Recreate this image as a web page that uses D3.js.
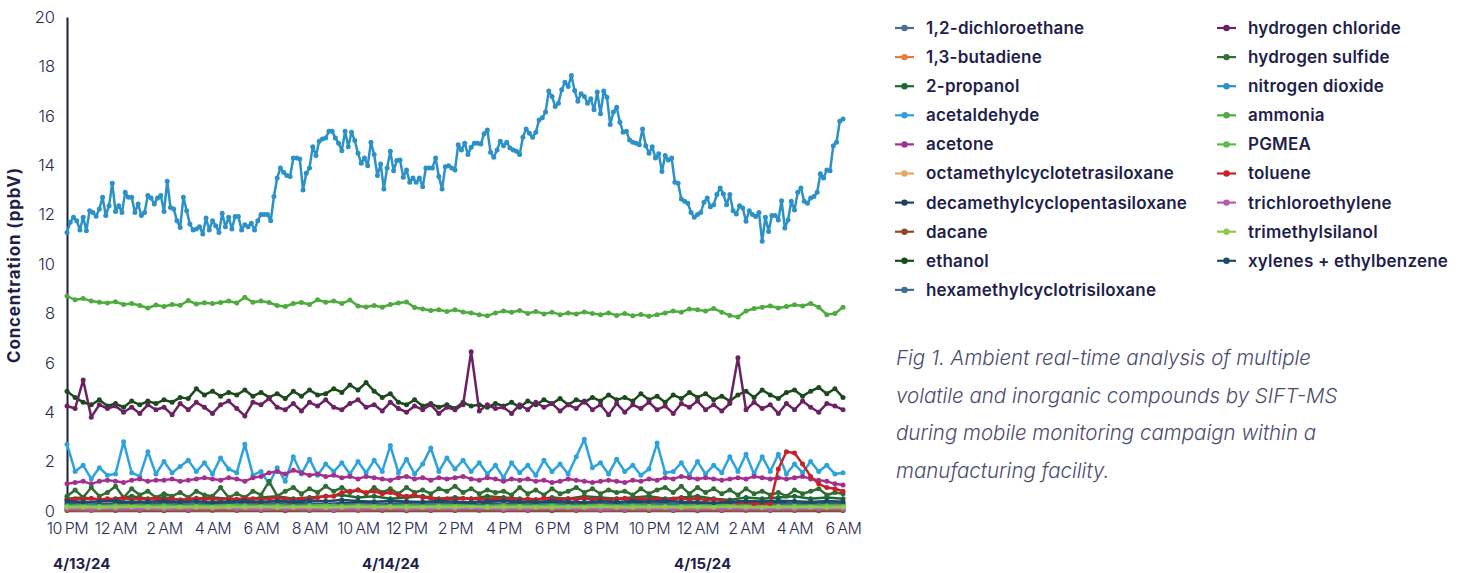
<!DOCTYPE html>
<html>
<head>
<meta charset="utf-8">
<script src="https://cdn.jsdelivr.net/npm/d3@7"></script>
<style>
  body { margin: 0; background: #fff; }
  svg { display: block; font-family: Inter, "Open Sans", sans-serif; }
</style>
</head>
<body>
<svg id="chart" width="1462" height="573"></svg>
<script>
// time span of the campaign
const START = new Date(2024, 3, 13, 22, 0);
const END = new Date(2024, 3, 15, 6, 0);

const yTicks = [0, 2, 4, 6, 8, 10, 12, 14, 16, 18, 20];
const dateLabels = ["4/13/24", "4/14/24", "4/15/24"];
const captionLines = [
  "Fig 1. Ambient real-time analysis of multiple",
  "volatile and inorganic compounds by SIFT-MS",
  "during mobile monitoring campaign within a",
  "manufacturing facility."
];

const seriesNames = [
  "1,2-dichloroethane", "1,3-butadiene", "2-propanol", "acetaldehyde", "acetone",
  "octamethylcyclotetrasiloxane", "decamethylcyclopentasiloxane", "dacane", "ethanol",
  "hexamethylcyclotrisiloxane", "hydrogen chloride", "hydrogen sulfide", "nitrogen dioxide",
  "ammonia", "PGMEA", "toluene", "trichloroethylene", "trimethylsilanol", "xylenes + ethylbenzene"
];
const seriesColors = [
  "#4d6d95", "#ea7a3c", "#1d6a34", "#2ea3db", "#a3308f",
  "#eea466", "#1f3f5c", "#8a4b22", "#1c4a1e",
  "#3f6f97", "#6a2263", "#2f6d33", "#2b91c7",
  "#4fab3f", "#5bb94d", "#c9202a", "#b55ab1", "#8fc94c", "#1e4a68"
];

// values, each series spread evenly over the span
const dichloroethane = [0.12,0.1,0.13,0.11,0.12,0.1,0.12,0.13,0.11,0.12,0.1,0.12,0.11,0.13,0.12,0.1,0.11,0.12,0.13,0.11,0.12,0.1,0.12,0.11,0.13,0.12,0.11,0.1,0.12,0.11,0.13,0.12,0.11];
const butadiene = [0.03,0.02,0.03,0.04,0.03,0.02,0.03,0.03,0.04,0.02,0.03,0.03,0.02,0.04,0.03,0.03,0.02,0.03,0.04,0.03,0.02,0.03,0.03,0.04,0.02,0.03,0.03,0.02,0.03,0.04,0.03,0.02,0.03];
const propanol = [
  0.5,0.55,0.45,0.5,0.6,0.5,0.55,0.45,0.5,0.55,
  0.5,0.45,0.55,0.6,0.5,0.55,0.6,0.65,0.55,0.6,
  0.5,0.55,0.6,0.5,0.55,0.5,0.6,0.55,0.5,0.45,
  0.55,0.5,0.6,0.55,0.5,0.55,0.6,0.5,0.55,0.6,
  0.5,0.45,0.55,0.5,0.55,0.6,0.5,0.55,0.5];
const acetaldehyde = [
  2.7,1.6,1.85, 1.3,1.75,1.45, 1.5,2.8,1.55, 1.4,2.4,1.5, 2.0,1.55,1.8, 2.05,1.6,1.95,
  1.5,2.15,1.7, 1.55,2.7,1.45, 1.6,1.1,1.75, 1.2,2.2,1.5, 2.1,1.45,1.9, 1.6,1.95,1.5,
  2.0,1.55,2.05, 1.6,2.65,1.55, 2.1,1.5,1.9, 2.55,1.6,2.15, 1.7,2.05,1.6, 1.95,1.5,1.85,
  1.35,1.95,1.55, 1.85,1.45,2.05, 1.6,1.9,1.5, 2.2,2.9,1.75, 1.95,1.5,2.1, 1.6,1.85,1.45,
  1.7,2.75,1.55, 1.6,1.95,1.45, 2.0,1.5,1.85, 1.55,2.2,1.6, 2.3,1.5,2.2, 1.6,2.3,1.5,
  1.9,1.55,2.0, 1.6,1.85,1.5, 1.55];
const acetone = [
  1.1,1.15,1.2, 1.1,1.2,1.25, 1.2,1.15,1.25, 1.3,1.2,1.25, 1.25,1.3,1.2, 1.25,1.3,1.35,
  1.3,1.25,1.35, 1.3,1.2,1.35, 1.4,1.55,1.6, 1.5,1.65,1.55, 1.45,1.5,1.4, 1.45,1.35,1.4,
  1.3,1.4,1.35, 1.3,1.25,1.35, 1.4,1.3,1.35, 1.25,1.35,1.3, 1.35,1.4,1.3, 1.25,1.35,1.3,
  1.2,1.3,1.25, 1.3,1.2,1.25, 1.15,1.2,1.3, 1.25,1.2,1.15, 1.2,1.25,1.2, 1.15,1.25,1.2,
  1.3,1.25,1.35, 1.3,1.4,1.35, 1.3,1.35,1.3, 1.25,1.3,1.35, 1.3,1.4,1.35, 1.3,1.35,1.3,
  1.35,1.4,1.3, 1.25,1.2,1.1, 1.05];
const octamethyl = [0.05,0.06,0.04,0.05,0.06,0.05,0.04,0.05,0.06,0.05,0.04,0.06,0.05,0.05,0.04,0.06,0.05,0.04,0.05,0.06,0.05,0.04,0.05,0.06,0.05,0.05,0.04,0.06,0.05,0.04,0.05,0.06,0.05];
const decamethyl = [
  0.3,0.32,0.28,0.3,0.33,0.29,0.31,0.3,0.28,0.32,
  0.3,0.34,0.31,0.29,0.32,0.3,0.28,0.31,0.33,0.3,
  0.29,0.31,0.3,0.32,0.28,0.3,0.31,0.29,0.33,0.3,
  0.32,0.29,0.31,0.3,0.28,0.32,0.3,0.31,0.29,0.33,
  0.3,0.28,0.31,0.3,0.32,0.29,0.31,0.3,0.3];
const dacane = [0.02,0.03,0.02,0.02,0.01,0.02,0.03,0.02,0.02,0.01,0.02,0.02,0.03,0.02,0.01,0.02,0.02,0.03,0.02,0.02,0.01,0.02,0.03,0.02,0.02,0.02,0.01,0.02,0.03,0.02,0.02,0.01,0.02];
const ethanol = [
  4.85,4.6,4.4, 4.3,4.5,4.25, 4.35,4.2,4.45, 4.3,4.45,4.35, 4.5,4.4,4.6, 4.55,4.95,4.7,
  4.85,4.65,4.8, 4.7,4.9,4.65, 4.8,4.6,4.75, 4.55,4.85,4.65, 4.9,4.7,4.75, 4.95,4.8,5.1,
  4.9,5.2,4.85, 4.6,4.75,4.4, 4.3,4.5,4.25, 4.35,4.2,4.3, 4.15,4.4,4.25, 4.3,4.2,4.35,
  4.25,4.4,4.2, 4.45,4.3,4.5, 4.35,4.55,4.3, 4.5,4.4,4.6, 4.45,4.7,4.5, 4.6,4.45,4.75,
  4.5,4.65,4.4, 4.7,4.55,4.8, 4.6,4.75,4.5, 4.65,4.45,4.7, 4.85,4.6,4.9, 4.7,4.55,4.8,
  4.9,4.65,4.85, 5.0,4.75,4.95, 4.6];
const hexamethyl = [0.25,0.27,0.24,0.26,0.25,0.28,0.24,0.26,0.27,0.25,0.26,0.24,0.27,0.25,0.26,0.28,0.25,0.24,0.26,0.25,0.27,0.24,0.26,0.25,0.27,0.26,0.24,0.25,0.27,0.26,0.25,0.24,0.26];
const hydrogenChloride = [
  4.25,4.15,5.3, 3.8,4.3,4.15, 4.25,4.0,4.2, 3.95,4.3,4.1, 4.2,3.9,4.35, 4.1,4.4,4.2,
  3.95,4.3,4.45, 4.15,3.85,4.4, 4.3,4.55,4.2, 4.1,4.35,4.05, 4.4,4.25,4.5, 4.2,4.1,4.35,
  4.5,4.2,4.3, 4.05,4.4,4.15, 4.0,4.25,4.1, 4.3,3.95,4.2, 4.1,4.3,6.45, 4.05,4.3,4.15,
  4.2,3.95,4.3, 4.1,4.4,4.2, 4.35,4.05,4.3, 4.15,4.45,4.1, 4.3,3.9,4.35, 4.0,4.3,4.15,
  4.4,4.1,4.25, 3.95,4.35,4.2, 4.45,4.1,4.3, 4.05,4.35,6.2, 4.1,4.4,4.15, 4.3,3.95,4.35,
  4.1,4.45,4.2, 4.0,4.35,4.25, 4.1];
const hydrogenSulfide = [
  0.6,0.85,0.55, 0.95,0.6,0.75, 1.0,0.55,0.9, 0.65,0.8,0.55, 0.7,0.6,0.75, 0.55,0.8,0.65,
  0.6,0.95,0.55, 0.7,0.55,0.8, 0.65,1.2,0.6, 0.8,0.95,0.7, 0.9,0.75,1.0, 0.8,0.95,0.75,
  0.85,0.7,0.95, 0.75,0.9,0.7, 0.95,0.75,0.85, 0.7,0.9,0.8, 1.0,0.75,0.9, 0.7,0.85,0.75,
  0.8,0.65,0.95, 0.7,0.85,0.65, 0.9,0.7,0.8, 0.95,0.75,0.9, 0.7,0.85,0.75, 0.8,0.65,0.9,
  0.7,0.85,0.95, 0.75,1.0,0.7, 0.95,0.75,0.9, 0.7,0.85,0.65, 0.9,0.7,0.8, 0.65,0.75,0.6,
  0.85,0.7,0.8, 0.9,0.65,0.75, 0.7];
const nitrogenDioxide = [
  11.28,11.69,11.89,11.75,11.38,11.89,11.35,12.16,12.09,11.93,
  12.23,12.70,11.96,12.36,13.27,12.13,12.36,12.09,12.90,12.70,
  12.70,12.09,12.43,11.96,12.09,12.77,12.67,12.43,12.67,12.77,
  12.13,13.35,12.29,12.23,11.75,11.48,12.70,12.16,11.62,11.38,
  11.42,11.51,11.21,11.86,11.38,11.75,11.55,11.28,12.05,11.51,
  11.89,11.42,11.92,11.92,11.38,11.59,11.51,11.65,11.38,11.75,
  12.00,12.00,12.00,11.75,12.73,13.48,13.89,13.71,13.58,13.54,
  14.29,14.29,14.25,13.00,13.67,13.89,14.75,14.39,14.97,15.06,
  15.10,15.37,15.37,15.10,14.89,14.59,15.37,14.75,15.33,15.00,
  14.48,14.08,14.29,13.98,14.93,14.43,13.58,14.05,13.04,13.89,
  14.56,13.78,14.19,14.21,13.51,13.81,13.31,13.48,13.31,13.48,
  13.13,13.89,13.89,13.89,14.29,13.54,13.04,13.94,13.98,13.89,
  13.81,14.83,
  14.62,14.89,14.43,14.73,14.89,14.89,14.86,15.27,15.43,14.52,
  14.32,14.62,14.97,14.79,14.93,14.70,14.62,14.56,14.43,15.13,
  15.47,15.29,15.13,15.33,15.83,15.92,16.15,17.00,16.78,16.38,
  16.51,17.05,17.36,17.19,17.63,17.02,16.59,16.89,16.78,16.51,
  16.69,16.24,16.96,16.08,17.00,16.75,15.65,16.15,16.35,15.74,
  15.33,15.37,15.02,14.93,14.89,14.83,15.47,14.79,14.48,14.75,
  14.29,14.46,13.75,14.39,14.21,14.29,13.31,13.27,12.63,12.54,
  12.46,12.09,11.89,12.00,12.08,12.50,12.67,12.32,12.40,12.81,
  13.08,12.83,12.40,12.81,12.16,12.02,12.36,12.27,11.73,12.16,
  12.00,11.92,12.09,10.92,11.89,11.32,11.96,11.96,11.78,12.56,
  11.46,11.78,12.54,12.19,12.90,13.08,12.54,12.46,12.67,12.73,
  12.90,13.65,13.48,13.81,13.78,14.79,14.93,15.78,15.87];
const ammonia = [
  8.7,8.55,8.6, 8.5,8.45,8.42, 8.47,8.36,8.4, 8.32,8.22,8.34, 8.28,8.36,8.33, 8.52,8.38,8.43,
  8.4,8.44,8.5, 8.42,8.65,8.45, 8.5,8.44,8.32, 8.28,8.4,8.44, 8.36,8.55,8.45, 8.5,8.4,8.54,
  8.3,8.26,8.32, 8.25,8.36,8.42, 8.46,8.24,8.18, 8.12,8.15,8.08, 8.15,8.06,8.02, 7.95,7.9,8.02,
  8.1,8.05,8.12, 8.0,8.08,7.98, 8.05,7.95,8.02, 7.98,8.06,8.0, 7.95,8.02,7.92, 8.0,7.9,7.96,
  7.88,7.95,8.02, 8.1,8.05,8.18, 8.15,8.1,8.2, 8.05,7.92,7.85, 8.1,8.2,8.25, 8.3,8.22,8.28,
  8.35,8.3,8.4, 8.25,7.95,8.0, 8.25];
const pgmea = [
  0.2,0.22,0.19,0.21,0.23,0.2,0.22,0.19,0.21,0.2,
  0.23,0.21,0.2,0.22,0.19,0.21,0.24,0.2,0.22,0.21,
  0.19,0.22,0.2,0.21,0.23,0.2,0.19,0.22,0.21,0.2,
  0.22,0.19,0.21,0.23,0.2,0.22,0.21,0.19,0.2,0.22,
  0.21,0.23,0.2,0.22,0.19,0.21,0.2,0.22,0.21];
const toluene = [
  0.45,0.5,0.48, 0.52,0.47,0.5, 0.48,0.53,0.46, 0.5,0.48,0.52, 0.47,0.5,0.45, 0.49,0.52,0.48,
  0.5,0.46,0.51, 0.48,0.52,0.5, 0.47,0.5,0.53, 0.49,0.46,0.5, 0.5,0.55,0.6, 0.6,0.75,0.8,
  0.85,0.75,0.8, 0.7,0.75,0.65, 0.6,0.65,0.55, 0.52,0.48,0.5, 0.47,0.52,0.49, 0.5,0.46,0.52,
  0.48,0.5,0.45, 0.5,0.47,0.52, 0.49,0.46,0.5, 0.48,0.52,0.47, 0.5,0.45,0.49, 0.52,0.48,0.5,
  0.47,0.5,0.46, 0.49,0.52,0.47, 0.5,0.45,0.48, 0.42,0.38,0.35, 0.35,0.3,0.3, 0.3,1.7,2.4,
  2.35,1.9,1.4, 1.1,0.95,0.9, 0.8];
const trichloroethylene = [0.07,0.06,0.08,0.07,0.06,0.07,0.09,0.07,0.06,0.08,0.07,0.06,0.07,0.08,0.06,0.07,0.07,0.09,0.06,0.07,0.08,0.07,0.06,0.07,0.08,0.06,0.07,0.07,0.08,0.06,0.07,0.08,0.07];
const trimethylsilanol = [
  0.15,0.16,0.14,0.15,0.17,0.15,0.14,0.16,0.15,0.14,
  0.16,0.15,0.17,0.14,0.15,0.16,0.14,0.15,0.17,0.15,
  0.16,0.14,0.15,0.16,0.15,0.17,0.14,0.15,0.16,0.15,
  0.14,0.16,0.15,0.17,0.15,0.14,0.16,0.15,0.14,0.16,
  0.15,0.17,0.15,0.14,0.16,0.15,0.16,0.14,0.15];
const xylenes = [
  0.4,0.36,0.38,0.42,0.35,0.37,0.4,0.36,0.39,0.35,
  0.38,0.41,0.36,0.4,0.37,0.43,0.39,0.45,0.4,0.37,
  0.41,0.38,0.36,0.4,0.37,0.35,0.39,0.42,0.38,0.36,
  0.4,0.37,0.35,0.39,0.36,0.4,0.38,0.42,0.37,0.35,
  0.33,0.36,0.4,0.38,0.42,0.39,0.36,0.4,0.37];

const seriesValues = [
  dichloroethane, butadiene, propanol, acetaldehyde, acetone,
  octamethyl, decamethyl, dacane, ethanol,
  hexamethyl, hydrogenChloride, hydrogenSulfide, nitrogenDioxide,
  ammonia, pgmea, toluene, trichloroethylene, trimethylsilanol, xylenes
];

const series = seriesNames.map((name, k) => {
  const vals = seriesValues[k];
  const step = (END - START) / (vals.length - 1);
  return {
    name,
    color: seriesColors[k],
    points: vals.map((v, i) => ({ t: new Date(+START + i * step), v }))
  };
});

const svg = d3.select("#chart");
const TEXT = "#1f1f4b";

const margin = { top: 17, left: 67, right: 619, bottom: 62 };
const plotW = 1462 - margin.left - margin.right;
const plotH = 573 - margin.top - margin.bottom;

const x = d3.scaleTime().domain([START, END]).range([margin.left, margin.left + plotW]);
const y = d3.scaleLinear().domain([0, 20]).range([margin.top + plotH, margin.top]);

//axes
const yAxis = svg.append("g")
  .attr("transform", `translate(${margin.left},0)`)
  .call(d3.axisLeft(y).tickValues(yTicks).tickSize(0).tickPadding(12));
yAxis.select(".domain").attr("stroke", "#1c1c3e").attr("stroke-width", 2);
yAxis.selectAll("text").attr("font-size", 16.5).attr("fill", "#2a2a55").attr("font-family", "Inter, sans-serif").attr("font-weight", 300);

const xAxis = svg.append("g")
  .attr("transform", `translate(0,${margin.top + plotH})`)
  .call(d3.axisBottom(x).ticks(d3.timeHour.every(2)).tickFormat(d3.timeFormat("%-I %p")).tickSize(0).tickPadding(12));
xAxis.select(".domain").attr("stroke", "#3b3b5c").attr("stroke-width", 1.5);
xAxis.selectAll("text")
  .attr("font-size", 16)
  .attr("fill", "#2a2a55")
  .attr("font-family", "Inter, sans-serif")
  .attr("font-weight", 300)
  .attr("letter-spacing", -0.4)
  .attr("word-spacing", -1.5);

// date labels under the hour ticks
const dateX = [53, 362, 674];
svg.selectAll(".date")
  .data(dateLabels)
  .join("text")
  .attr("x", (d, i) => dateX[i])
  .attr("y", 569)
  .attr("font-size", 15)
  .attr("font-weight", 700)
  .attr("fill", TEXT)
  .text(d => d);

svg.append("text")
  .attr("transform", `translate(20,265) rotate(-90)`)
  .attr("text-anchor", "middle")
  .attr("font-size", 17)
  .attr("font-weight", 700)
  .attr("letter-spacing", 0.8)
  .attr("fill", TEXT)
  .text("Concentration (ppbV)");

//lines + markers
const line = d3.line().x(d => x(d.t)).y(d => y(d.v));
const plot = svg.append("g");
series.forEach(s => {
  const g = plot.append("g");
  g.append("path")
    .attr("d", line(s.points))
    .attr("fill", "none")
    .attr("stroke", s.color)
    .attr("stroke-width", 2.5)
    .attr("stroke-linejoin", "round");
  g.selectAll("circle")
    .data(s.points)
    .join("circle")
    .attr("cx", d => x(d.t))
    .attr("cy", d => y(d.v))
    .attr("r", 2.5)
    .attr("fill", s.color);
});

//legend, two columns
const legendCols = [{ x: 895, from: 0, to: 10 }, { x: 1217, from: 10, to: 19 }];
legendCols.forEach(col => {
  const items = series.slice(col.from, col.to);
  const lg = svg.append("g").attr("transform", `translate(${col.x},28)`);
  const row = lg.selectAll("g").data(items).join("g")
    .attr("transform", (d, i) => `translate(0,${i * 29.1})`);
  row.append("line").attr("x1", 0).attr("x2", 19).attr("stroke", d => d.color).attr("stroke-width", 2.2);
  row.append("circle").attr("cx", 9.5).attr("r", 3.2).attr("fill", d => d.color);
  row.append("text")
    .attr("x", 31)
    .attr("dy", "0.35em")
    .attr("font-size", 17)
    .attr("font-weight", 600)
    .attr("letter-spacing", 0.2)
    .attr("fill", TEXT)
    .text(d => d.name);
});

//caption
svg.append("g")
  .selectAll("text")
  .data(captionLines)
  .join("text")
  .attr("x", 896)
  .attr("y", (d, i) => 365 + i * 37.5)
  .attr("font-family", "Inter, sans-serif")
  .attr("font-size", 20.5)
  .attr("font-style", "italic")
  .attr("font-weight", 300)
  .attr("fill", "#4b4b70")
  .text(d => d);
</script>
</body>
</html>
